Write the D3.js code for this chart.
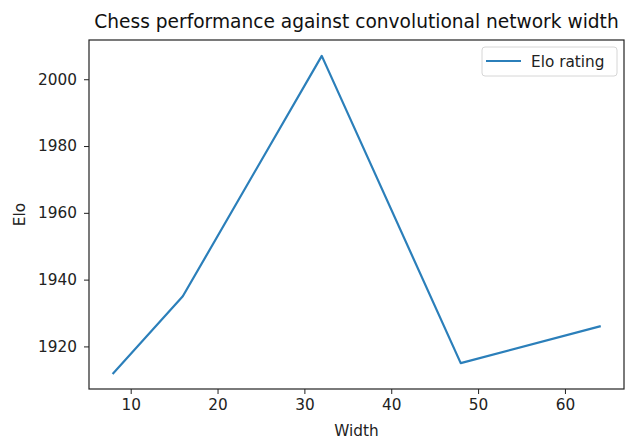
<!DOCTYPE html>
<html>
<head>
<meta charset="utf-8">
<script src="https://cdn.jsdelivr.net/npm/d3@7"></script>
<style>
  body { margin: 0; background: #fff; }
  svg { font-family: "DejaVu Sans", sans-serif; }
</style>
</head>
<body>
<div id="chart"></div>
<script>
// Data
const widths = [8, 16, 32, 48, 64];
const elo = [1912, 1935, 2007, 1915, 1926];
const xTicks = [10, 20, 30, 40, 50, 60];
const yTicks = [1920, 1940, 1960, 1980, 2000];

const width = 629, height = 439;
const margin = { top: 40, right: 5, bottom: 50, left: 89 };
const plotW = width - margin.left - margin.right;
const plotH = height - margin.top - margin.bottom;
const fontSize = '15.3px';

const svg = d3.select('#chart').append('svg')
    .attr('width', width)
    .attr('height', height);

// matplotlib-like 5% margins around the data
const xPad = (d3.max(widths) - d3.min(widths)) * 0.05;
const yPad = (d3.max(elo) - d3.min(elo)) * 0.05;

const x = d3.scaleLinear()
    .domain([d3.min(widths) - xPad, d3.max(widths) + xPad])
    .range([0, plotW]);

const y = d3.scaleLinear()
    .domain([d3.min(elo) - yPad, d3.max(elo) + yPad])
    .range([plotH, 0]);

const chart = svg.append('g')
    .attr('transform', `translate(${margin.left},${margin.top})`);

// Line
const line = d3.line()
    .x((d, i) => x(widths[i]))
    .y(d => y(d));

chart.append('path')
    .datum(elo)
    .attr('fill', 'none')
    .attr('stroke', '#2b7fba')
    .attr('stroke-width', 2.2)
    .attr('stroke-linejoin', 'round')
    .attr('stroke-linecap', 'square')
    .attr('d', line);

// Axes
const xAxis = chart.append('g')
    .attr('transform', `translate(0,${plotH})`)
    .call(d3.axisBottom(x).tickValues(xTicks).tickFormat(d3.format('d')).tickSize(5).tickPadding(5));

const yAxis = chart.append('g')
    .call(d3.axisLeft(y).tickValues(yTicks).tickFormat(d3.format('d')).tickSize(5).tickPadding(7));

[xAxis, yAxis].forEach(ax => {
    ax.select('.domain').remove();
    ax.selectAll('line').attr('stroke', '#222').attr('stroke-width', 1);
    ax.selectAll('text')
        .attr('fill', '#222')
        .style('font-size', fontSize)
        .style('font-family', '"DejaVu Sans", sans-serif');
});

// Frame
chart.append('rect')
    .attr('x', 0)
    .attr('y', 0)
    .attr('width', plotW)
    .attr('height', plotH)
    .attr('fill', 'none')
    .attr('stroke', '#222')
    .attr('stroke-width', 1.2);

// Title and labels
svg.append('text')
    .attr('x', margin.left + plotW / 2)
    .attr('y', 28)
    .attr('text-anchor', 'middle')
    .style('font-size', '18.6px')
    .attr('fill', '#111')
    .text('Chess performance against convolutional network width');

svg.append('text')
    .attr('x', margin.left + plotW / 2)
    .attr('y', 436)
    .attr('text-anchor', 'middle')
    .style('font-size', fontSize)
    .attr('fill', '#222')
    .text('Width');

svg.append('text')
    .attr('transform', `translate(25,${margin.top + plotH / 2}) rotate(-90)`)
    .attr('text-anchor', 'middle')
    .style('font-size', fontSize)
    .attr('fill', '#222')
    .text('Elo');

// Legend
const legend = chart.append('g')
    .attr('transform', `translate(${482 - margin.left},${47 - margin.top})`);

legend.append('rect')
    .attr('width', 135)
    .attr('height', 29)
    .attr('rx', 3)
    .attr('fill', '#fff')
    .attr('fill-opacity', 0.8)
    .attr('stroke', '#d6d6d6')
    .attr('stroke-width', 1);

legend.append('line')
    .attr('x1', 4)
    .attr('x2', 39)
    .attr('y1', 14)
    .attr('y2', 14)
    .attr('stroke', '#2b7fba')
    .attr('stroke-width', 2.2);

legend.append('text')
    .attr('x', 49)
    .attr('y', 19.5)
    .style('font-size', fontSize)
    .attr('fill', '#222')
    .text('Elo rating');
</script>
</body>
</html>
